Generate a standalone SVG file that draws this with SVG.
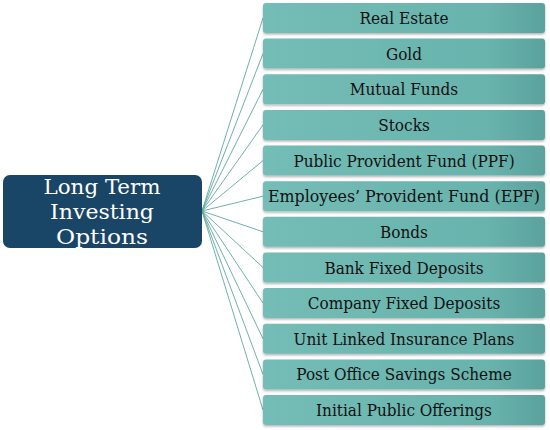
<svg xmlns="http://www.w3.org/2000/svg" width="550" height="430" viewBox="0 0 550 430">
<defs>
<linearGradient id="tg" x1="0" y1="0" x2="1" y2="0">
<stop offset="0" stop-color="#74bdb7"/>
<stop offset="0.8" stop-color="#69b3ad"/>
<stop offset="1" stop-color="#5aa29d"/>
</linearGradient>
<filter id="sh" x="-5%" y="-20%" width="110%" height="150%">
<feDropShadow dx="0" dy="1.5" stdDeviation="1" flood-color="#000" flood-opacity="0.3"/>
</filter>
</defs>
<style>
.box{fill:url(#tg);filter:url(#sh)}
.lbl{font-family:"DejaVu Serif Condensed","DejaVu Serif",serif;font-size:17px;fill:#111;text-anchor:middle}
.ttl{font-family:"DejaVu Serif Condensed","DejaVu Serif",serif;font-size:21px;fill:#fff;text-anchor:middle}
.con line{stroke:#5fa8a2;stroke-width:0.9}
</style>
<rect width="550" height="430" fill="#fff"/>
<g class="con">
<line x1="202" y1="211" x2="263" y2="18"/>
<line x1="202" y1="211" x2="263" y2="53.6"/>
<line x1="202" y1="211" x2="263" y2="89.3"/>
<line x1="202" y1="211" x2="263" y2="124.9"/>
<line x1="202" y1="211" x2="263" y2="160.6"/>
<line x1="202" y1="211" x2="263" y2="196.2"/>
<line x1="202" y1="211" x2="263" y2="231.8"/>
<line x1="202" y1="211" x2="263" y2="267.5"/>
<line x1="202" y1="211" x2="263" y2="303.1"/>
<line x1="202" y1="211" x2="263" y2="338.7"/>
<line x1="202" y1="211" x2="263" y2="374.4"/>
<line x1="202" y1="211" x2="263" y2="410"/>
</g>
<g id="root">
<rect x="3" y="175" width="199" height="73" rx="7" fill="#194566"/>
<text class="ttl" x="102" y="194" textLength="117" lengthAdjust="spacingAndGlyphs">Long Term</text>
<text class="ttl" x="102" y="219" textLength="104" lengthAdjust="spacingAndGlyphs">Investing</text>
<text class="ttl" x="102" y="244" textLength="92" lengthAdjust="spacingAndGlyphs">Options</text>
</g>
<g id="n1"><rect class="box" x="263" y="3" width="282" height="30" rx="3"/><text class="lbl" x="404" y="24">Real Estate</text></g>
<g id="n2"><rect class="box" x="263" y="38.6" width="282" height="30" rx="3"/><text class="lbl" x="404" y="59.6">Gold</text></g>
<g id="n3"><rect class="box" x="263" y="74.3" width="282" height="30" rx="3"/><text class="lbl" x="404" y="95.3">Mutual Funds</text></g>
<g id="n4"><rect class="box" x="263" y="109.9" width="282" height="30" rx="3"/><text class="lbl" x="404" y="130.9">Stocks</text></g>
<g id="n5"><rect class="box" x="263" y="145.6" width="282" height="30" rx="3"/><text class="lbl" x="404" y="166.6">Public Provident Fund (PPF)</text></g>
<g id="n6"><rect class="box" x="263" y="181.2" width="282" height="30" rx="3"/><text class="lbl" x="404" y="202.2" textLength="272" lengthAdjust="spacingAndGlyphs">Employees’ Provident Fund (EPF)</text></g>
<g id="n7"><rect class="box" x="263" y="216.8" width="282" height="30" rx="3"/><text class="lbl" x="404" y="237.8">Bonds</text></g>
<g id="n8"><rect class="box" x="263" y="252.5" width="282" height="30" rx="3"/><text class="lbl" x="404" y="273.5">Bank Fixed Deposits</text></g>
<g id="n9"><rect class="box" x="263" y="288.1" width="282" height="30" rx="3"/><text class="lbl" x="404" y="309.1">Company Fixed Deposits</text></g>
<g id="n10"><rect class="box" x="263" y="323.7" width="282" height="30" rx="3"/><text class="lbl" x="404" y="344.7">Unit Linked Insurance Plans</text></g>
<g id="n11"><rect class="box" x="263" y="359.4" width="282" height="30" rx="3"/><text class="lbl" x="404" y="380.4">Post Office Savings Scheme</text></g>
<g id="n12"><rect class="box" x="263" y="395" width="282" height="30" rx="3"/><text class="lbl" x="404" y="416">Initial Public Offerings</text></g>
</svg>
